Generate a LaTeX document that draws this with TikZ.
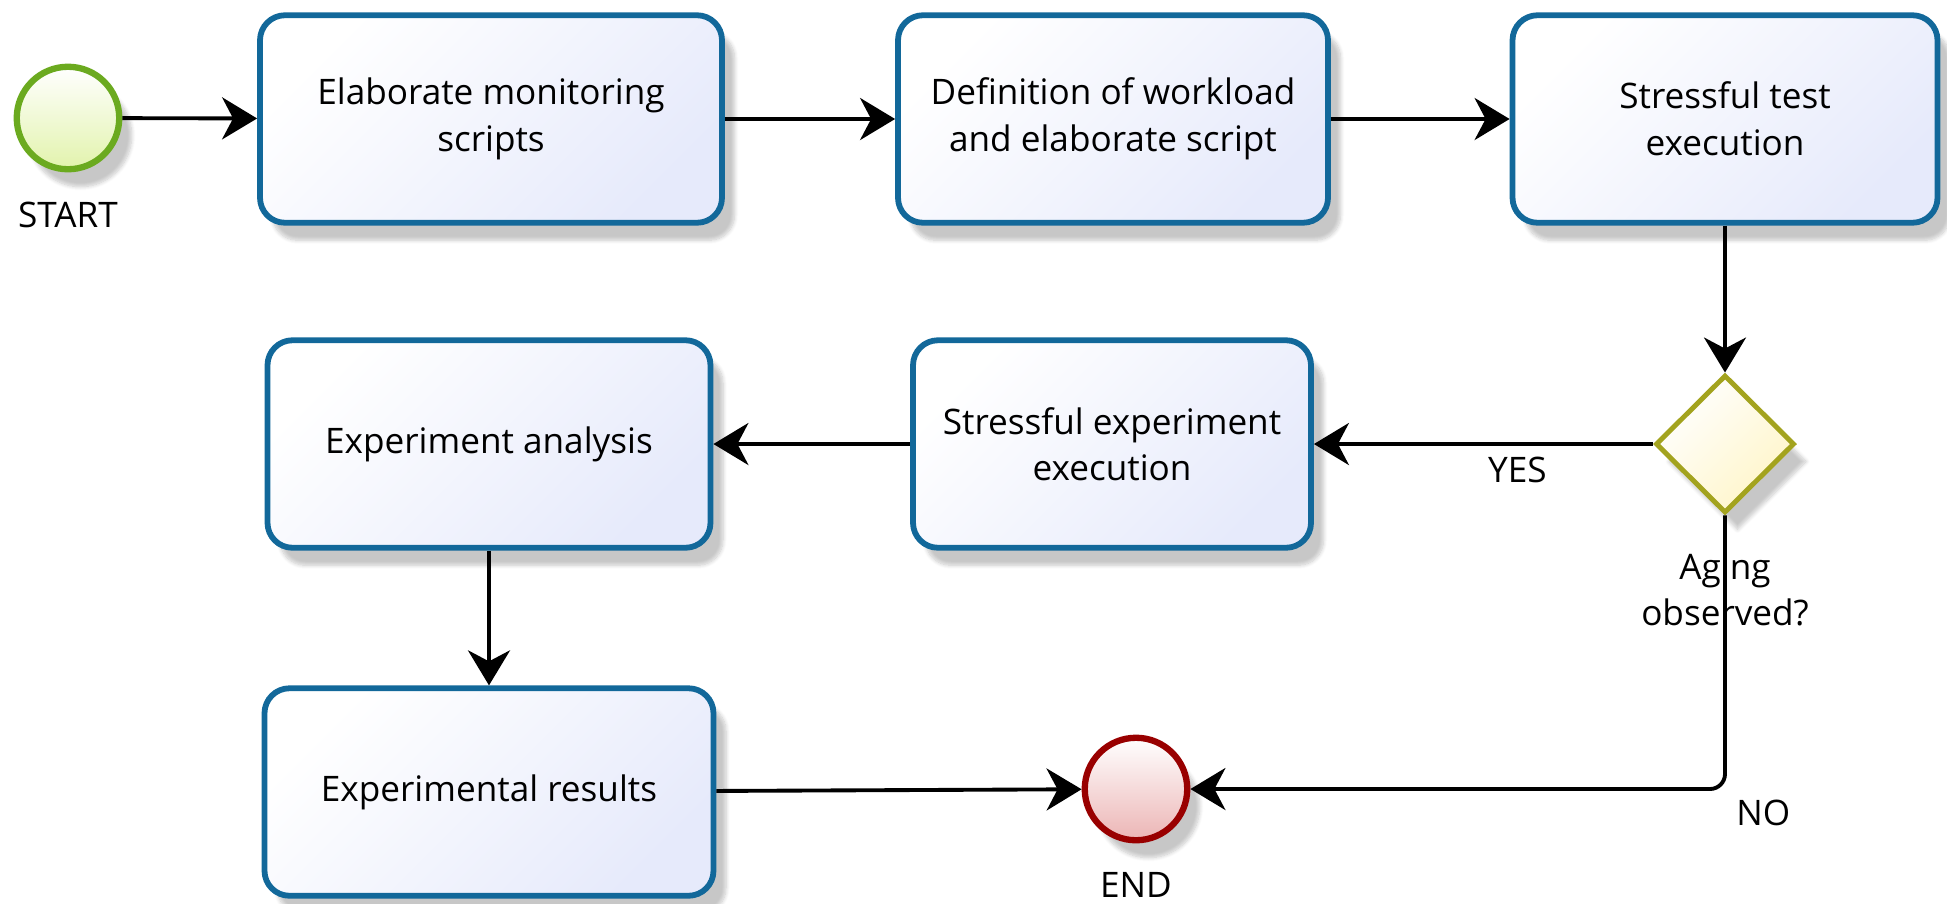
\documentclass[tikz,border=0pt]{standalone}
\usepackage{fontspec}
\setmainfont{Open Sans}
\usepackage{tikz}
\usetikzlibrary{arrows.meta,positioning,shapes.geometric,shadows.blur}
\definecolor{taskblue}{HTML}{12689A}
\definecolor{taskfill}{HTML}{E6EAFB}
\definecolor{startgreen}{HTML}{6BAA1F}
\definecolor{startfill}{HTML}{E2F3AC}
\definecolor{endred}{HTML}{990000}
\definecolor{endfill}{HTML}{ECB5B5}
\definecolor{gateolive}{HTML}{A3A31E}
\definecolor{gatefill}{HTML}{FFF5C8}

\begin{document}
\begin{tikzpicture}[
    font=\fontsize{20}{26.5}\selectfont,
    soft/.style={blur shadow={shadow xshift=.25cm, shadow yshift=-.35cm,
      shadow opacity=22, shadow blur steps=8}},
    task/.style={soft, draw=taskblue, line width=3.3pt, rounded corners=.5cm,
      top color=white, bottom color=taskfill, shading angle=45,
      minimum height=4.15cm, inner sep=2pt, align=center},
    event/.style={soft, circle, minimum size=2.05cm, inner sep=0pt,
      line width=3.6pt, shading angle=45},
    startev/.style={event, draw=startgreen, top color=white, bottom color=startfill},
    endev/.style={event, draw=endred, top color=white, bottom color=endfill},
    gate/.style={soft, diamond, aspect=1, minimum width=2.78cm, minimum height=2.76cm,
      inner sep=0pt, draw=gateolive, line width=2.8pt,
      top color=white, bottom color=gatefill, shading angle=45},
    evlabel/.style={align=center, inner sep=1pt},
    flow/.style={-{Stealth[length=.7cm, width=.84cm, inset=.22cm]},
      line width=2.2pt, color=black}
  ]
    \useasboundingbox (0,0) rectangle (38.94,-18.06);

    % top row
    \node[startev] (start) at (1.36,-2.36) {};
    \node[evlabel] (startlbl) at (1.36,-4.3) {START};
    \node[task, minimum width=9.24cm] (monitor) at (9.82,-2.38)
      {Elaborate monitoring\\scripts};
    \node[task, minimum width=8.6cm] (workload) at (22.26,-2.38)
      {Definition of workload\\and elaborate script};
    \node[task, minimum width=8.5cm] (stresstest) at (34.5,-2.38)
      {Stressful test\\execution};

    % middle row
    \node[gate] (aging) at (34.5,-8.88) {};
    \node[evlabel] (aginglbl) at (34.5,-11.8) {Aging\\observed?};
    \node[task, minimum width=7.96cm] (stressexp) at (22.24,-8.88)
      {Stressful experiment\\execution};
    \node[task, minimum width=8.86cm] (analysis) at (9.78,-8.88)
      {Experiment analysis};

    % bottom row
    \node[task, minimum width=8.98cm] (results) at (9.78,-15.84)
      {Experimental results};
    \node[endev] (finish) at (22.72,-15.78) {};
    \node[evlabel] (endlbl) at (22.72,-17.7) {END};

    \draw[flow] (start) -- (monitor);
    \draw[flow] (monitor) -- (workload);
    \draw[flow] (workload) -- (stresstest);
    \draw[flow] (stresstest) -- (aging);
    \draw[flow] (aging) -- node[pos=.4, below=1mm] (yes) {YES} (stressexp);
    \draw[flow] (stressexp) -- (analysis);
    \draw[flow] (analysis) -- (results);
    \draw[flow] (results) -- (finish);
    \draw[flow, rounded corners=.3cm] (aging) |-
      node[pos=.5, below right=1mm] (no) {NO} (finish);
  \end{tikzpicture}
\end{document}
